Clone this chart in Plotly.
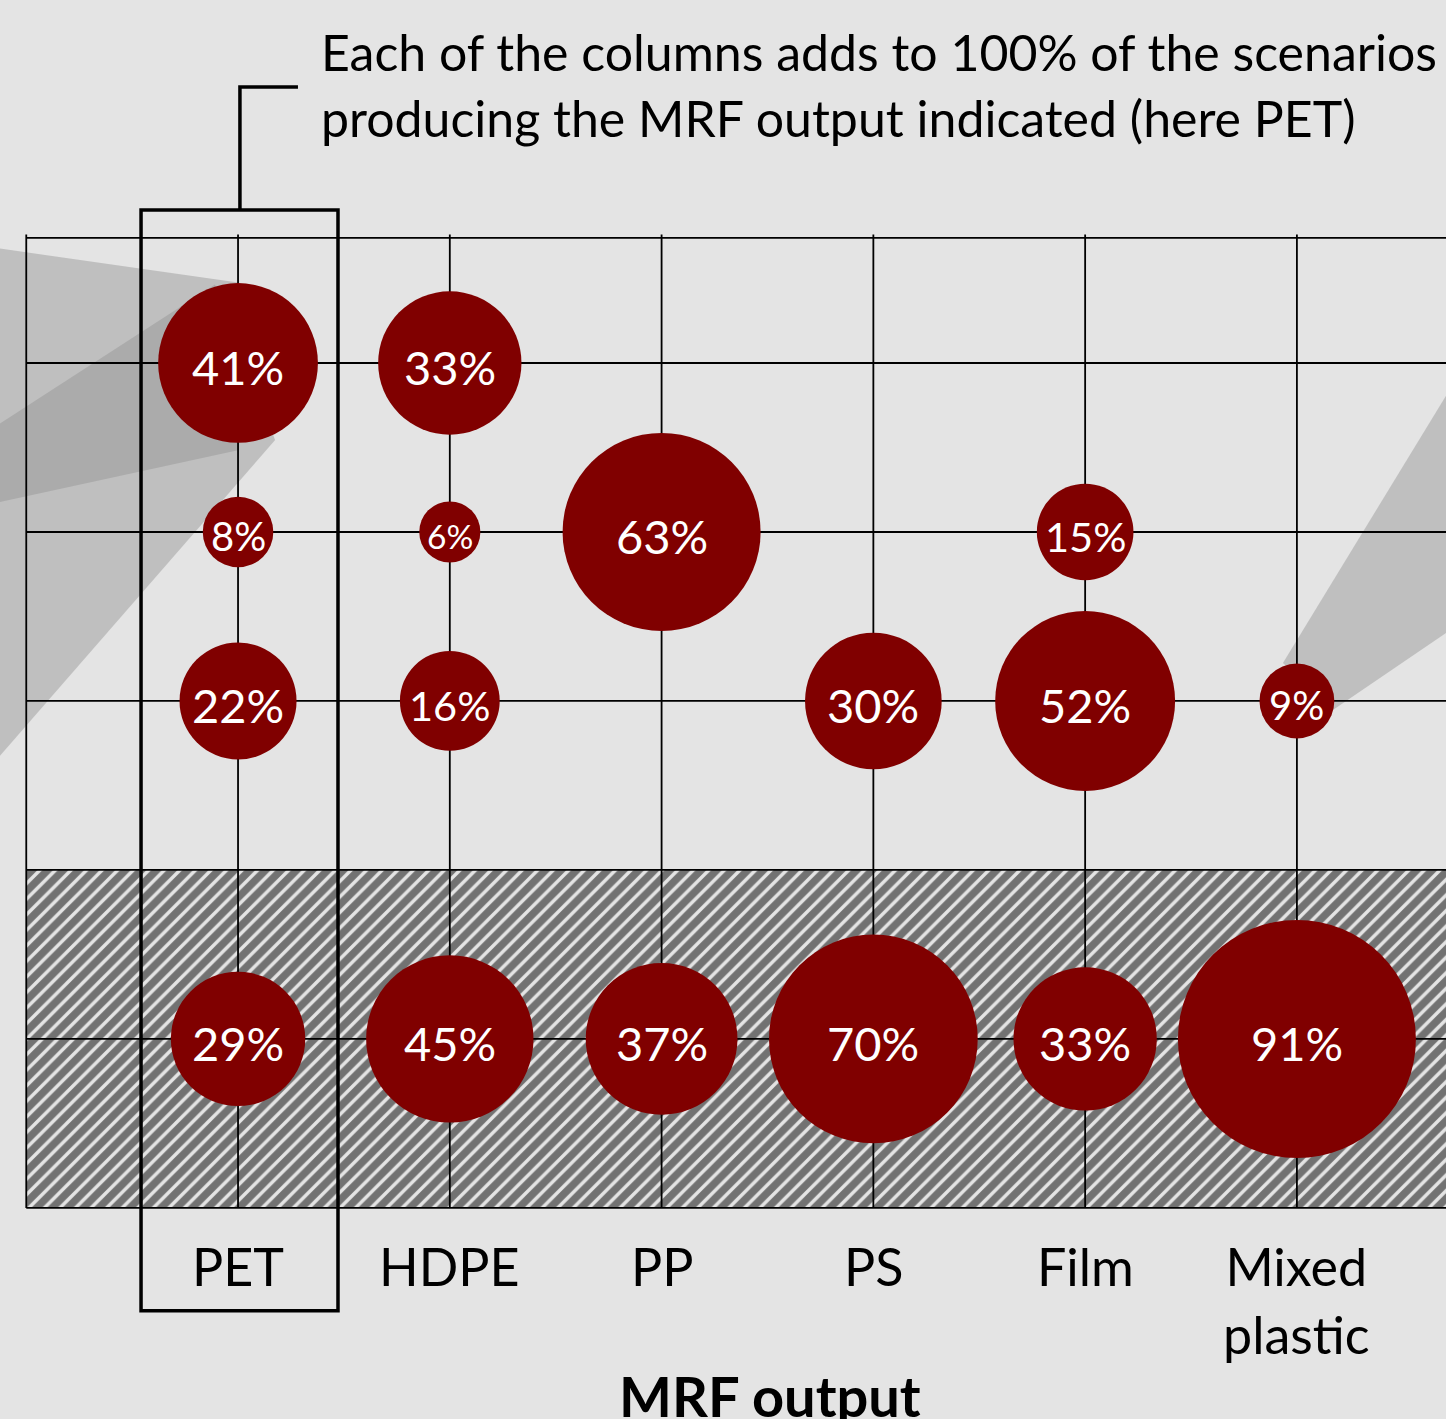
import plotly.graph_objects as go

# ---------------- data ----------------
categories = ["PET", "HDPE", "PP", "PS", "Film", "Mixed<br>plastic"]
row_positions = [0, 1, 2, 4]          # three upper rows + hatched row
share_row0 = [41, 33, None, None, None, None]
share_row1 = [8, 6, 63, None, 15, None]
share_row2 = [22, 16, None, 30, 52, 9]
share_row4 = [29, 45, 37, 70, 33, 91]
share_rows = [share_row0, share_row1, share_row2, share_row4]

axis_title = "MRF output"
note_line1 = "Each of the columns adds to 100% of the scenarios"
note_line2 = "producing the MRF output indicated (here PET)"

# ---------------- styles ----------------
BG = "#e4e4e4"
BUBBLE = "#800000"
FONT = "Lato"
X_RANGE = [-1.124, 5.704]
Y_RANGE = [6.249, -2.148]
GRID_TOP = -0.74
WEDGE = "rgba(148,148,148,0.46)"


def label_size(v):
    if v >= 20:
        return 47
    if v >= 12:
        return 41.5
    if v >= 7:
        return 40
    return 33.5


xs, ys, vals, texts, tsizes = [], [], [], [], []
for r, row in zip(row_positions, share_rows):
    for i, v in enumerate(row):
        if v is None:
            continue
        xs.append(i)
        ys.append(r)
        vals.append(v)
        texts.append(f"{v}%")
        tsizes.append(label_size(v))

fig = go.Figure()

# decorative translucent wedges (callouts from outside the crop)
wedges = [
    ([-2.068, 0.0, 0.0, -2.068], [-0.846, -0.476, 0.517, 1.079]),
    ([-2.068, -0.109, 0.175, -2.068], [1.124, -0.464, 0.456, 3.683]),
    ([4.934, 6.431, 6.431, 5.170], [1.775, -1.299, 0.979, 2.053]),
]
for wx, wy in wedges:
    fig.add_trace(go.Scatter(x=wx + [wx[0]], y=wy + [wy[0]], mode="lines",
                             fill="toself", fillcolor=WEDGE,
                             line=dict(width=0), hoverinfo="skip"))

# hatched band (last row)
fig.add_trace(go.Scatter(
    x=[-1, 6.5, 6.5, -1, -1], y=[3, 3, 5, 5, 3], mode="lines",
    fill="toself", fillcolor=BG,
    fillpattern=dict(shape="/", size=11, solidity=0.68,
                     fgcolor="black", bgcolor=BG),
    line=dict(width=0), hoverinfo="skip"))

# grid lines
gx, gy = [], []
for xv in [-1] + list(range(len(categories))):
    gx += [xv, xv, None]
    gy += [GRID_TOP - 0.02, 5, None]
for yv in [GRID_TOP, 0, 1, 2, 3, 4, 5]:
    gx += [-1, 6.5, None]
    gy += [yv, yv, None]
fig.add_trace(go.Scatter(x=gx, y=gy, mode="lines",
                         line=dict(color="black", width=1.8),
                         hoverinfo="skip"))

# bubbles (area proportional to share)
fig.add_trace(go.Scatter(
    x=xs, y=ys, mode="markers",
    marker=dict(size=vals, sizemode="area", sizeref=2 / 24.95 ** 2,
                color=BUBBLE, line=dict(width=0), opacity=1),
    hoverinfo="skip"))

# bubble labels
for x, y, t, s in zip(xs, ys, texts, tsizes):
    fig.add_annotation(x=x, y=y, xref="x", yref="y", text=t, showarrow=False,
                       xanchor="center", yanchor="middle", yshift=-4,
                       font=dict(family=FONT, color="white", size=s))

# PET highlight box and callout bracket
fig.add_shape(type="rect", x0=-0.458, x1=0.472, y0=-0.905, y1=5.609,
              line=dict(color="black", width=3.5), layer="above")
fig.add_shape(type="path", path="M 0.009,-0.905 L 0.009,-1.633 L 0.283,-1.633",
              line=dict(color="black", width=3.5), layer="above")

# note text
fig.add_annotation(x=0.382, y=-1.84, xref="x", yref="y", text=note_line1,
                   showarrow=False, xanchor="left", yanchor="middle",
                   font=dict(family=FONT, size=50, color="black"))
fig.add_annotation(x=0.382, y=-1.45, xref="x", yref="y", text=note_line2,
                   showarrow=False, xanchor="left", yanchor="middle",
                   font=dict(family=FONT, size=50, color="black"))

# category labels
for i, c in enumerate(categories):
    fig.add_annotation(x=i, y=5.15, xref="x", yref="y", text=c,
                       showarrow=False, xanchor="center", yanchor="top",
                       font=dict(family=FONT, size=52, color="black"))

fig.add_annotation(x=2.512, y=6.11, xref="x", yref="y",
                   text=f"<b>{axis_title}</b>", showarrow=False,
                   xanchor="center", yanchor="middle",
                   font=dict(family=FONT, size=56, color="black"))

fig.update_layout(
    width=1446, height=1419, autosize=False,
    margin=dict(l=0, r=0, t=0, b=0, pad=0),
    paper_bgcolor=BG, plot_bgcolor=BG, showlegend=False,
    xaxis=dict(range=X_RANGE, visible=False, fixedrange=True),
    yaxis=dict(range=Y_RANGE, visible=False, fixedrange=True),
)

fig.write_html("out.html", config={"displayModeBar": False},
               post_script="document.body.style.margin='0px';"
                           "document.body.style.background='" + BG + "';")
